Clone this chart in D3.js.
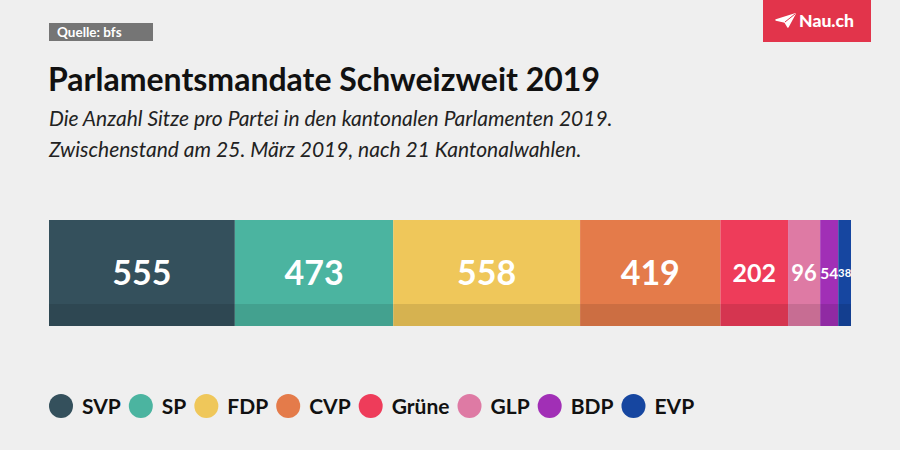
<!DOCTYPE html>
<html><head><meta charset="utf-8">
<script src="https://cdn.jsdelivr.net/npm/d3@7"></script>
<style>
html,body{margin:0;padding:0;background:#efefef;}
svg{display:block;font-family:Lato,"Noto Sans",sans-serif;}
</style></head>
<body>
<svg id="chart" width="900" height="450"></svg>
<script>
const parties = ["SVP","SP","FDP","CVP","Grüne","GLP","BDP","EVP"];
const seats = [555,473,558,419,202,96,54,38];
const colors = ["#34505c","#4bb4a0","#efc75a","#e47b4a","#ee3c5a","#de7aa4","#a12fb6","#1646a0"];
const title = "Parlamentsmandate Schweizweit 2019";
const subtitle = ["Die Anzahl Sitze pro Partei in den kantonalen Parlamenten 2019.","Zwischenstand am 25. März 2019, nach 21 Kantonalwahlen."];
const source = "Quelle: bfs";
const brand = "Nau.ch";

const svg = d3.select("#chart");
svg.append("rect").attr("width",900).attr("height",450).attr("fill","#efefef");

// source tag
svg.append("rect").attr("x",49).attr("y",23).attr("width",104).attr("height",18).attr("fill","#757575");
svg.append("text").attr("x",57).attr("y",37).attr("fill","#fff").attr("font-size",13.5).attr("font-weight",700).text(source);

// logo
const lg = svg.append("g");
lg.append("rect").attr("x",763).attr("y",0).attr("width",108).attr("height",42).attr("fill","#e2344b");
lg.append("path").attr("d","M776,20 L795,14 L788,27 L785,22 Z").attr("fill","#fff").attr("stroke","#fff").attr("stroke-width",1.5).attr("stroke-linejoin","round");
lg.append("path").attr("d","M785,22 L795,14").attr("stroke","#e2344b").attr("stroke-width",1);
lg.append("text").attr("x",799).attr("y",26.5).attr("fill","#fff").attr("font-size",16.5).attr("font-weight",900)
  .attr("textLength",55).attr("lengthAdjust","spacingAndGlyphs").text(brand);

// title
svg.append("text").attr("x",48).attr("y",91).attr("fill","#111").attr("font-size",32).attr("font-weight",700).text(title);
svg.selectAll("text.sub").data(subtitle).join("text").attr("class","sub")
  .attr("x",49).attr("y",(d,i)=>126+i*31).attr("fill","#222").attr("font-size",21).attr("font-style","italic").text(d=>d);

// bars
const data = parties.map((p,i)=>({p, v:seats[i], c:colors[i]}));
let cum=0; data.forEach(d=>{d.x0=cum; cum+=d.v; d.x1=cum;});
const x = d3.scaleLinear().domain([0,cum]).range([49,851]);
const y0 = 220, y1 = 326, band = 304;
const g = svg.append("g");
const seg = g.selectAll("g.seg").data(data).join("g").attr("class","seg");
seg.append("rect").attr("x",d=>x(d.x0)).attr("y",y0).attr("width",d=>x(d.x1)-x(d.x0)).attr("height",y1-y0).attr("fill",d=>d.c);
seg.append("rect").attr("x",d=>x(d.x0)).attr("y",band).attr("width",d=>x(d.x1)-x(d.x0)).attr("height",y1-band).attr("fill","#000").attr("opacity",0.1);
seg.append("text")
  .attr("x",d=>(x(d.x0)+x(d.x1))/2)
  .attr("text-anchor","middle").attr("fill","#fff").attr("font-weight",700)
  .text(d=>d.v)
  .each(function(d){
    const w = x(d.x1)-x(d.x0);
    let fs;
    if (w>100) fs=34; else if (w>50) fs=25;
    else {
      d3.select(this).attr("font-size",10);
      const tw = this.getComputedTextLength();
      fs = Math.min(22, 10*(w+1.5)*0.92/tw);
    }
    d3.select(this).attr("font-size",fs).attr("y",(y0+y1)/2+fs*0.36);
  });

// legend
const leg = svg.append("g");
let lx = 49; const ly = 406;
data.forEach((d,i)=>{
  leg.append("circle").attr("cx",lx+12).attr("cy",ly).attr("r",12).attr("fill",d.c);
  const t = leg.append("text").attr("x",lx+33).attr("y",ly+7.5).attr("font-size",21).attr("font-weight",700).attr("fill","#111").text(d.p);
  lx = lx+33+t.node().getComputedTextLength()+8;
});
</script>
</body></html>
